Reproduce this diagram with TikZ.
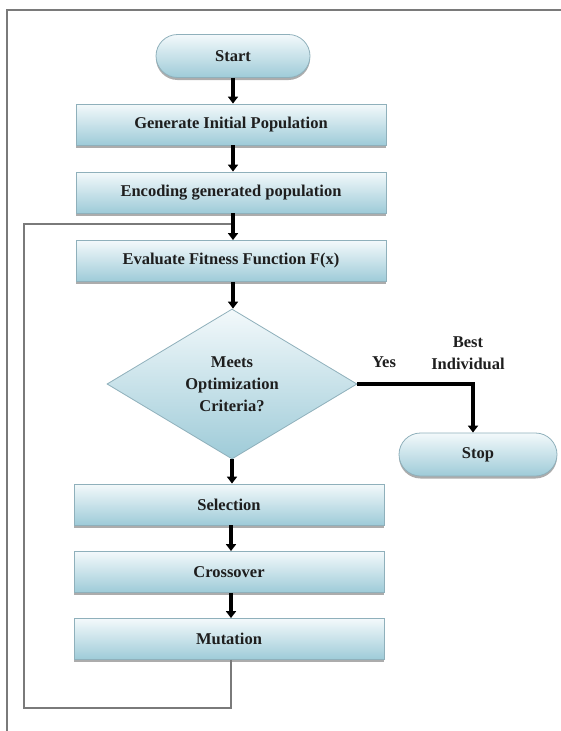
\documentclass[tikz,border=0pt]{standalone}
\usepackage{fontspec}
\setmainfont{Liberation Serif}
\usetikzlibrary{arrows.meta,shapes.geometric,shapes.misc,shadows}
\definecolor{topc}{HTML}{F3F9FB}
\definecolor{botc}{HTML}{9ECBD8}
\definecolor{edgec}{HTML}{8FB0BB}
\definecolor{framec}{HTML}{7A7A7A}
\definecolor{txtc}{HTML}{1E1E1E}
\tikzset{
  every node/.style={font=\fontsize{16.5}{22}\selectfont\bfseries, text=txtc},
  procbox/.style={rectangle, draw=edgec, line width=0.8pt, top color=topc, bottom color=botc,
    minimum width=310pt, minimum height=41pt, inner sep=0pt,
    drop shadow={shadow xshift=0pt, shadow yshift=-2.5pt, fill=black!50, opacity=0.65}},
  pill/.style={rounded rectangle, draw=edgec, line width=0.8pt, top color=topc, bottom color=botc,
    minimum height=43pt, inner sep=0pt,
    drop shadow={shadow xshift=0pt, shadow yshift=-2.5pt, fill=black!50, opacity=0.65}},
  decision/.style={diamond, draw=edgec, line width=0.8pt, top color=topc, bottom color=botc,
    minimum width=250pt, minimum height=150pt, inner sep=0pt, aspect=1.667, align=center},
  flow/.style={line width=3.4pt, black, -{Triangle[length=7pt,width=10pt]}},
  loopline/.style={line width=1.6pt, framec},
  framel/.style={line width=2.4pt, framec}
}
\begin{document}
\begin{tikzpicture}[x=1pt,y=-1pt]
\useasboundingbox (0,0) rectangle (561,731);
\coordinate (f1) at (7,731);
\coordinate (f2) at (7,10);
\coordinate (f3) at (561,10);
\draw[framel] (f1) -- (f2) -- (f3);

\node[pill, minimum width=154pt] (start) at (233,56) {Start};
\node[procbox] (gen) at (231,124.5) {Generate Initial Population};
\node[procbox] (enc) at (231,192.5) {Encoding generated population};
\node[procbox] (eval) at (231,261) {Evaluate Fitness Function F(x)};
\node[decision] (dec) at (232,384) {Meets\\Optimization\\Criteria?};
\node[pill, minimum width=158pt] (stop) at (478,454.5) {Stop};
\node[procbox] (sel) at (229,504.5) {Selection};
\node[procbox] (cross) at (229,572) {Crossover};
\node[procbox] (mut) at (229,639) {Mutation};

\node (yes) at (384,362) {Yes};
\node[align=center] (best) at (468,353) {Best\\Individual};

\coordinate (j1) at (233,224);
\coordinate (c1) at (24,224);
\coordinate (c2) at (24,708);
\coordinate (c3) at (231,708);
\coordinate (y1) at (473,384);

\draw[loopline] (mut.south -| c3) -- (c3) -- (c2) -- (c1) -- (j1);

\draw[flow] (start.south -| 233,0) -- (gen.north -| 233,0);
\draw[flow] (gen.south -| 233,0) -- (enc.north -| 233,0);
\draw[flow] (enc.south -| 233,0) -- (eval.north -| 233,0);
\draw[flow] (eval.south -| 233,0) -- (dec.north -| 233,0);
\draw[flow] (dec.south -| 232,0) -- (sel.north -| 232,0);
\draw[flow] (sel.south -| 231,0) -- (cross.north -| 231,0);
\draw[flow] (cross.south -| 231,0) -- (mut.north -| 231,0);
\draw[flow] (dec.east) -- (y1) -- (stop.north -| y1);
\end{tikzpicture}
\end{document}
